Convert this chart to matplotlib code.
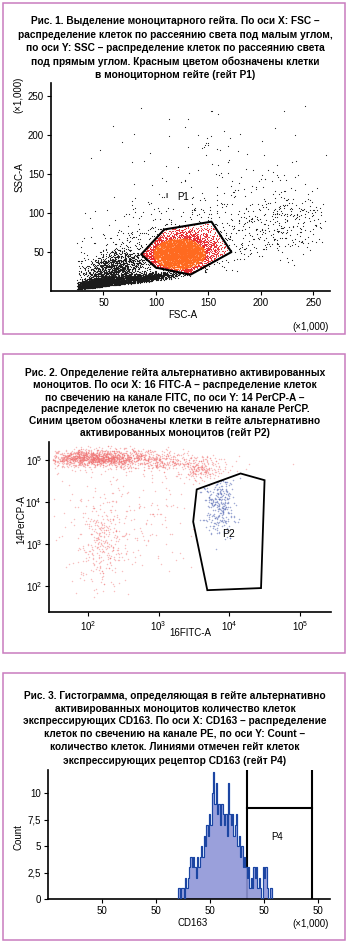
import matplotlib
matplotlib.use('Agg')
import matplotlib.pyplot as plt
import numpy as np
from matplotlib.patches import Rectangle
from matplotlib.path import Path

plt.rcParams['font.family'] = ['Liberation Sans', 'DejaVu Sans']
plt.rcParams['mathtext.default'] = 'regular'

W, H = 350, 944

# ---------------- data ----------------
title1 = ["Рис. 1. Выделение моноцитарного гейта. По оси X: FSC –",
          "распределение клеток по рассеянию света под малым углом,",
          "по оси Y: SSC – распределение клеток по рассеянию света",
          "под прямым углом. Красным цветом обозначены клетки",
          "в моноциторном гейте (гейт P1)"]
title2 = ["Рис. 2. Определение гейта альтернативно активированных",
          "моноцитов. По оси X: 16 FITC-A – распределение клеток",
          "по свечению на канале FITC, по оси Y: 14 PerCP-A –",
          "распределение клеток по свечению на канале PerCP.",
          "Синим цветом обозначены клетки в гейте альтернативно",
          "активированных моноцитов (гейт P2)"]
title3 = ["Рис. 3. Гистограмма, определяющая в гейте альтернативно",
          "активированных моноцитов количество клеток",
          "экспрессирующих CD163. По оси X: CD163 – распределение",
          "клеток по свечению на канале PE, по оси Y: Count –",
          "количество клеток. Линиями отмечен гейт клеток",
          "экспрессирующих рецептор CD163 (гейт P4)"]

# fig 1: FSC-A / SSC-A (x1000), event clouds (cx, cy, sx, sy, rho, n)
fsc_ticks = [50, 100, 150, 200, 250]
ssc_ticks = [50, 100, 150, 200, 250]
p1_clouds = [(42, 9, 9, 4, 0.6, 2500),
             (80, 15, 22, 5, 0.75, 1800),
             (60, 28, 16, 12, 0.4, 1400),
             (115, 55, 45, 30, 0.35, 700),
             (220, 90, 30, 25, 0.2, 320),
             (160, 145, 60, 45, 0.0, 130)]
p1_core = (122, 48, 19, 15, 0.1, 4500)
p1_floor_x = [26, 160, 270]
p1_floor_y = [2, 22, 40]
gate_p1 = [(86, 47), (108, 79), (153, 89), (172, 50), (133, 21), (100, 30)]

# fig 2: log10 coordinates of event clouds
p2_red_clouds = [(2.1, 5.05, 0.35, 0.10, 0.0, 1300),
                 (3.0, 5.00, 0.45, 0.12, -0.2, 450),
                 (3.6, 4.75, 0.15, 0.12, 0.0, 180),
                 (2.2, 3.00, 0.17, 0.55, 0.0, 280),
                 (2.5, 3.80, 0.60, 0.80, 0.0, 240)]
p2_blue_cloud = (3.85, 4.0, 0.11, 0.40, 0.0, 300)
gate_p2 = [(3.54, 4.30), (4.16, 4.68), (4.50, 4.52), (4.45, 1.95),
           (3.69, 1.90), (3.49, 3.53)]
log_ticks = [2, 3, 4, 5]

# fig 3: CD163 histogram counts
hist_range = (2.41, 4.15)
counts = [1, 0, 1, 1, 0, 2, 1, 2, 3, 4, 3, 4, 3, 2, 4, 3, 4, 5, 4, 6,
          5, 7, 6, 8, 7, 10, 12, 9, 11, 8, 9, 7, 9, 8, 7, 8, 6, 11, 8, 7,
          8, 6, 7, 8, 5, 6, 4, 5, 3, 4, 3, 2, 3, 1, 2, 1, 3, 2, 3, 1,
          2, 1, 0, 3, 2, 3, 1, 0, 1, 1]
count_ticks = [0, 2.5, 5, 7.5, 10]
count_labels = ['0', '2,5', '5', '7,5', '10']
cd_ticks = [1, 2, 3, 4, 5]
gate_p4_x = (3.68, 4.89)
gate_p4_y = 8.6

rng = np.random.default_rng(7)


def sample(cloud):
    cx, cy, sx, sy, rho, n = cloud
    cov = [[sx * sx, rho * sx * sy], [rho * sx * sy, sy * sy]]
    return rng.multivariate_normal([cx, cy], cov, n)


def fx(px):
    return px / W


def fy(py):
    return 1 - py / H


fig = plt.figure(figsize=(W / 100, H / 100), dpi=100)

# panel frames
border = '#c97cbf'
for top, bot in [(3, 334), (354, 653), (673, 940)]:
    fig.add_artist(Rectangle((fx(3), fy(bot)), fx(342), (bot - top) / H,
                             transform=fig.transFigure, fill=False,
                             edgecolor=border, linewidth=1.1))

# titles
for lines, ys in [(title1, [21, 35, 48, 62, 75]),
                  (title2, [373, 385, 397, 409, 421, 433]),
                  (title3, [696, 709, 721, 734, 747, 761])]:
    for txt, y in zip(lines, ys):
        fig.text(0.5, fy(y), txt, ha='center', va='center',
                 fontsize=7.3, fontweight='bold')


def style(ax):
    for s in ['top', 'right']:
        ax.spines[s].set_visible(False)
    for s in ['left', 'bottom']:
        ax.spines[s].set_linewidth(1.2)
    ax.tick_params(labelsize=7, length=3, width=0.8, direction='out', pad=2)


# ---------------- fig 1 ----------------
ax1 = fig.add_axes([fx(51), fy(291), fx(279), 208 / H])
pts = np.vstack([sample(c) for c in p1_clouds])
core = sample(p1_core)
allp = np.vstack([pts, core])
floor = np.interp(allp[:, 0], p1_floor_x, p1_floor_y)
keep = (allp[:, 0] > 25) & (allp[:, 0] < 262) & (allp[:, 1] > floor) & (allp[:, 1] < 250)
is_core = np.r_[np.zeros(len(pts), bool), np.ones(len(core), bool)]
allp, is_core = allp[keep], is_core[keep]
inside = Path(gate_p1).contains_points(allp)
d = np.hypot((allp[:, 0] - p1_core[0]) / p1_core[2], (allp[:, 1] - p1_core[1]) / p1_core[3])
blk = allp[~inside & ~is_core]
red = allp[inside & (d >= 1.3)]
org = allp[inside & (d < 1.3)]
ax1.scatter(blk[:, 0], blk[:, 1], s=0.7, c='#1a1a1a', linewidths=0)
ax1.scatter(red[:, 0], red[:, 1], s=0.6, c='#e8242a', linewidths=0)
ax1.scatter(org[:, 0], org[:, 1], s=1.0, c='#ff6a20', linewidths=0)
ax1.add_patch(plt.Polygon(gate_p1, closed=True, fill=False, edgecolor='black',
                          linewidth=1.5, joinstyle='round'))
ax1.text(111, 121, 'll', fontsize=5.5, ha='center', va='center', color='#333333')
ax1.text(126, 121, 'P1', fontsize=7, ha='center', va='center')
ax1.set_xlim(0, 266)
ax1.set_ylim(0, 267)
ax1.set_xticks(fsc_ticks)
ax1.set_yticks(ssc_ticks)
style(ax1)
fig.text(fx(20), fy(177), 'SSC-A', rotation=90, ha='center', va='center', fontsize=7)
fig.text(fx(18), fy(95), '(×1,000)', rotation=90, ha='center', va='center', fontsize=7)
fig.text(fx(183), fy(315), 'FSC-A', ha='center', va='center', fontsize=7)
fig.text(fx(311), fy(327), '(×1,000)', ha='center', va='center', fontsize=7)

# ---------------- fig 2 ----------------
ax2 = fig.add_axes([fx(49), fy(612), fx(282), 170 / H])
rp = np.vstack([sample(c) for c in p2_red_clouds])
bp = sample(p2_blue_cloud)
rp = rp[(rp[:, 0] > 1.5) & (rp[:, 1] < 5.35) & (rp[:, 1] > 1.7)]
gpath = Path(gate_p2)
rp = rp[~gpath.contains_points(rp)]
bp = bp[gpath.contains_points(bp)]
ax2.scatter(10 ** rp[:, 0], 10 ** rp[:, 1], s=1.1, c='#f07070', alpha=0.45,
            linewidths=0)
ax2.scatter(10 ** bp[:, 0], 10 ** bp[:, 1], s=1.2, c='#5266b4', alpha=0.55,
            linewidths=0)
g2 = np.array(gate_p2)
ax2.add_patch(plt.Polygon(10 ** g2, closed=True, fill=False, edgecolor='black',
                          linewidth=1.3))
ax2.text(10 ** 3.99, 10 ** 3.25, 'P2', fontsize=7.5, ha='center', va='center')
ax2.set_xscale('log')
ax2.set_yscale('log')
ax2.set_xlim(10 ** 1.45, 10 ** 5.44)
ax2.set_ylim(10 ** 1.38, 10 ** 5.43)
ax2.set_xticks([10 ** t for t in log_ticks])
ax2.set_xticklabels(['$10^{%d}$' % t for t in log_ticks])
ax2.set_yticks([10 ** t for t in log_ticks])
ax2.set_yticklabels(['$10^{%d}$' % t for t in log_ticks])
ax2.minorticks_off()
style(ax2)
fig.text(fx(21), fy(520), '14PerCP-A', rotation=90, ha='center', va='center', fontsize=7)
fig.text(fx(190), fy(633), '16FITC-A', ha='center', va='center', fontsize=7)

# ---------------- fig 3 ----------------
ax3 = fig.add_axes([fx(48), fy(899), fx(282), 129 / H])
edges = np.linspace(hist_range[0], hist_range[1], len(counts) + 1)
ax3.plot([gate_p4_x[0]] * 2, [0, 12.2], color='black', lw=1.5, zorder=1)
ax3.plot([gate_p4_x[1]] * 2, [0, 12.2], color='black', lw=1.5, zorder=1)
ax3.plot(gate_p4_x, [gate_p4_y] * 2, color='black', lw=1.5, zorder=1)
ax3.stairs(counts, edges, fill=True, color='#8f96d8', alpha=0.9, zorder=2)
ax3.stairs(counts, edges, color='#2f6fd0', lw=0.9, zorder=3)
ax3.stairs(counts, edges, color='#15338e', lw=0.5, zorder=4)
ax3.text(4.24, 5.85, 'P4', fontsize=7, ha='center', va='center')
ax3.set_xlim(0, 5.22)
ax3.set_ylim(0, 12.2)
ax3.set_xticks(cd_ticks)
ax3.set_xticklabels(['50'] * len(cd_ticks))
ax3.set_yticks(count_ticks)
ax3.set_yticklabels(count_labels)
style(ax3)
fig.text(fx(18), fy(837), 'Count', rotation=90, ha='center', va='center', fontsize=7)
fig.text(fx(193), fy(923), 'CD163', ha='center', va='center', fontsize=7)
fig.text(fx(311), fy(924), '(×1,000)', ha='center', va='center', fontsize=7)

fig.savefig('out.png', dpi=100, facecolor='white')
